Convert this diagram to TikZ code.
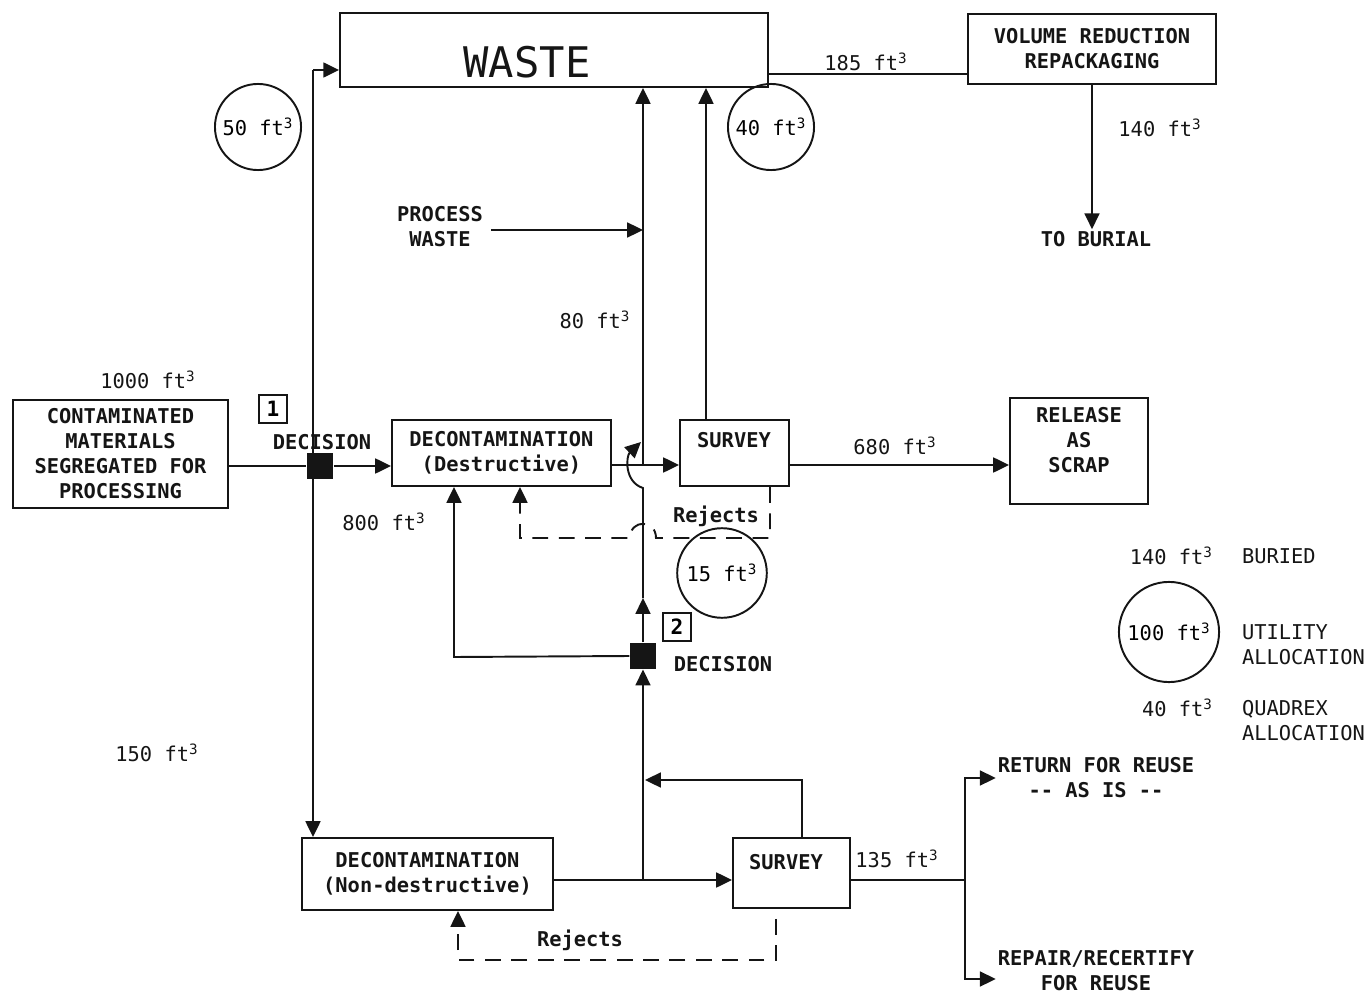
\documentclass[tikz,border=0pt]{standalone}
\usepackage{fontspec}
\setmonofont{DejaVu Sans Mono}
\usetikzlibrary{arrows.meta,calc}
\definecolor{ink}{HTML}{151515}
\newcommand{\cuft}{ft\textsuperscript{3}}

\begin{document}
\begin{tikzpicture}[x=0.02cm,y=-0.02cm,
  box/.style={draw=ink,line width=1.1pt,inner sep=0pt},
  boxtext/.style={font=\ttfamily\bfseries\fontsize{11.6}{14.2}\selectfont,align=center,text=ink,inner sep=1pt},
  qty/.style={font=\ttfamily\fontsize{11.6}{14.2}\selectfont,text=ink,inner sep=1pt},
  link/.style={draw=ink,line width=1.1pt},
  flow/.style={link,-{Triangle[length=9pt,width=8.5pt]}},
  reject/.style={flow,dash pattern=on 9pt off 6pt},
  decide/.style={fill=ink,minimum size=15pt,inner sep=0pt},
  tag/.style={draw=ink,line width=1.1pt,minimum size=16pt,inner sep=0pt,font=\ttfamily\bfseries\fontsize{12}{14}\selectfont},
  vol/.style={circle,draw=ink,line width=1.1pt,minimum size=49pt,inner sep=0pt,font=\ttfamily\fontsize{11.6}{14.2}\selectfont}]

\useasboundingbox (0,0) rectangle (1370,997);

% boxes
\node[box,minimum width=8.56cm,minimum height=1.48cm] (waste) at (554,50) {};
\node[font=\ttfamily\fontsize{24}{26}\selectfont,text=ink] (wastetext) at (527,62) {WASTE};
\node[box,boxtext,minimum width=4.96cm,minimum height=1.40cm] (vr) at (1092,49) {VOLUME REDUCTION\\REPACKAGING};
\node[box,boxtext,minimum width=4.30cm,minimum height=2.16cm] (cont) at (120.5,454) {CONTAMINATED\\MATERIALS\\SEGREGATED FOR\\PROCESSING};
\node[box,boxtext,minimum width=4.38cm,minimum height=1.32cm] (decD) at (501.5,453) {DECONTAMINATION\\(Destructive)};
\node[box,minimum width=2.18cm,minimum height=1.32cm] (s1) at (734.5,453) {};
\node[boxtext] (s1text) at (734,440) {SURVEY};
\node[box,minimum width=2.76cm,minimum height=2.12cm] (rel) at (1079,451) {};
\node[boxtext] (reltext) at (1079,440) {RELEASE\\AS\\SCRAP};
\node[box,boxtext,minimum width=5.02cm,minimum height=1.44cm] (decND) at (427.5,874) {DECONTAMINATION\\(Non-destructive)};
\node[box,minimum width=2.34cm,minimum height=1.40cm] (s2) at (791.5,873) {};
\node[boxtext] (s2text) at (786,862) {SURVEY};

% decision points
\node[decide] (d1) at (320,466) {};
\node[decide] (d2) at (643,656) {};
\foreach \k/\x/\y in {1/273/409,2/677/627}
  \node[tag] (t\k) at (\x,\y) {\k};
\node[boxtext] (dec1) at (322,442) {DECISION};
\node[boxtext] (dec2) at (723,664) {DECISION};

% volumes
\node[vol] (c50) at (258,127) {50 \cuft};
\node[vol] (c40) at (771,127) {40 \cuft};
\node[vol,minimum size=51pt] (c15) at (722,573) {15 \cuft};
\node[vol,minimum size=57pt] (c100) at (1169,632) {100 \cuft};
\node[qty] (q185) at (866,62) {185 \cuft};
\node[qty] (q140) at (1160,128) {140 \cuft};
\node[qty] (q80) at (595,320) {80 \cuft};
\node[qty] (q1000) at (148,380) {1000 \cuft};
\node[qty] (q800) at (384,522) {800 \cuft};
\node[qty] (q680) at (895,446) {680 \cuft};
\node[qty] (q150) at (157,753) {150 \cuft};
\node[qty] (q135) at (897,859) {135 \cuft};
\node[boxtext] (rej1) at (716,516) {Rejects};
\node[boxtext] (rej2) at (580,940) {Rejects};

% plain texts
\node[boxtext] (pw) at (440,227) {PROCESS\\WASTE};
\node[boxtext] (bur) at (1096,239) {TO BURIAL};
\node[boxtext] (ret) at (1096,778) {RETURN FOR REUSE\\-- AS IS --};
\node[boxtext] (rep) at (1096,971) {REPAIR/RECERTIFY\\FOR REUSE};

% legend
\node[qty,anchor=east] (l140) at (1215,556) {140 \cuft};
\node[qty,anchor=west] (lbur) at (1240,556) {BURIED};
\node[qty,anchor=west,align=left] (lutil) at (1240,645) {UTILITY\\ALLOCATION};
\node[qty,anchor=east] (l40) at (1215,708) {40 \cuft};
\node[qty,anchor=west,align=left] (lquad) at (1240,721) {QUADREX\\ALLOCATION};

% junctions
\coordinate (w1) at (313,70);
\coordinate (w2) at (768,74);
\coordinate (j1) at (643,465);
\coordinate (s1up) at (706,420);
\coordinate (h1) at (643,488);
\coordinate (h2) at (641,442);
\coordinate (m2) at (643,598);
\coordinate (r1) at (770,538);
\coordinate (r2) at (520,538);
\coordinate (r3) at (454,657);
\coordinate (j2) at (643,880);
\coordinate (f1) at (802,780);
\coordinate (r4) at (776,960);
\coordinate (r5) at (458,960);
\coordinate (k) at (965,880);
\coordinate (k1) at (965,778);
\coordinate (k2) at (965,979);

% connectors
\draw[link] (cont.east |- d1) -- (d1.west);
\draw[flow] (d1.east) -- (d1.east -| decD.west);
\draw[flow] (w1) -- (waste.west |- w1);
\draw[flow] (w1) -- (w1 |- decND.north);
\draw[flow] (decD.east |- j1) -- (s1.west |- j1);
\draw[flow] (j1) -- (j1 |- waste.south);
\draw[flow] (s1up) -- (s1up |- waste.south);
\draw[flow] (pw.east) ++(6,3) -- (j1 |- 0,230);
\draw[flow] (s1.east |- j1) -- (rel.west |- j1);
\draw[link] (w2) -- (w2 -| vr.west);
\draw[flow] (vr.south) -- (vr.south |- bur.north);
\draw[reject] (s1.south -| r1) -- (r1) -- (656,538)
  .. controls (656,519) and (630,519) .. (630,538) -- (r2) -- (r2 |- decD.south);
\draw[flow] (d2.west) -- (r3) -- (r3 |- decD.south);
\draw[flow] (d2.north) -- (m2);
\draw[flow] (m2) -- (h1) .. controls (624,482) and (626,456) .. (h2);
\draw[flow] (decND.east |- j2) -- (s2.west |- j2);
\draw[flow] (j2) -- (d2.south);
\draw[flow] (s2.north -| f1) -- (f1) -- (645,780);
\draw[reject] ($(s2.south -| r4)+(0,10)$) -- (r4) -- (r5) -- (r5 |- decND.south);
\draw[link] (s2.east |- k) -- (k);
\draw[flow] (k) -- (k1) -- (k1 -| ret.west);
\draw[flow] (k) -- (k2) -- (k2 -| rep.west);
\end{tikzpicture}
\end{document}
